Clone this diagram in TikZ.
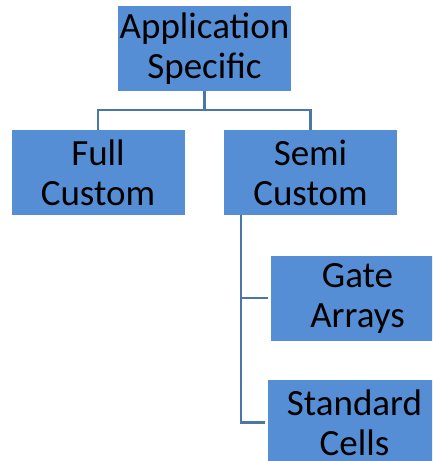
\documentclass[tikz,border=0pt]{standalone}
\usepackage{fontspec}
\setmainfont{Carlito}
\usepackage{xcolor}
\definecolor{boxblue}{RGB}{85,142,213}
\definecolor{lineblue}{RGB}{74,118,168}
\tikzset{box/.style={rectangle,fill=boxblue,draw=none,minimum width=173pt,
   minimum height=85pt,align=center,inner sep=0pt,
   font=\fontsize{37}{40}\selectfont},
 link/.style={draw=lineblue,line width=2.5pt},
 }

\begin{document}
\begin{tikzpicture}[x=1pt,y=-1pt]
        \useasboundingbox (0,0) rectangle (432,461);
        \fill[white] (0,0) rectangle (432,461);
        \clip (0,0) rectangle (432,461);
        \node[box] (app) at (204.5,48.5) {Application\\Specific};
        \node[box] (full) at (98,172.5) {Full\\Custom};
        \node[box] (semi) at (310.5,172.5) {Semi\\Custom};
        \node[box] (gate) at (357.5,298) {Gate\\Arrays};
        \node[box] (std) at (354.5,422.5) {Standard\\Cells};
        \draw[link] (app.south) -- ++(0,19) -| (full.north);
        \draw[link] (app.south) -- ++(0,19) -| (semi.north);
        \draw[link,shorten >=3pt] ([xshift=17pt]semi.south west) |- (gate.west);
        \draw[link,shorten >=3pt] ([xshift=17pt]semi.south west) |- (std.west);
    \end{tikzpicture}
\end{document}
